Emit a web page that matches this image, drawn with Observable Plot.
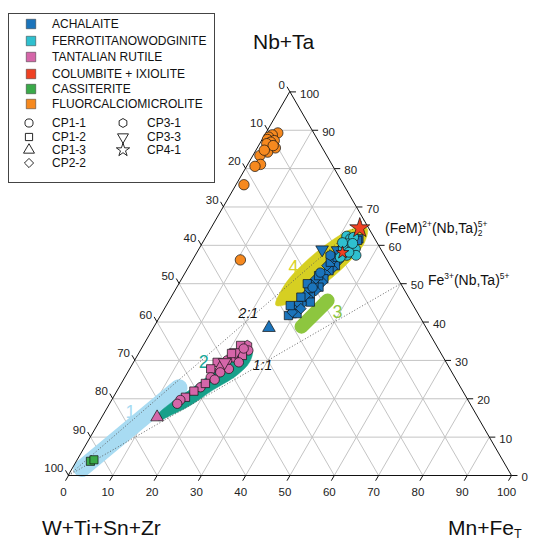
<!DOCTYPE html>
<html>
<head>
<meta charset="utf-8">
<script src="https://cdn.jsdelivr.net/npm/d3@7"></script>
<script src="https://cdn.jsdelivr.net/npm/@observablehq/plot@0.6"></script>
<style>
html,body{margin:0;padding:0;background:#fff;}
#wrap{position:relative;width:533px;height:542px;overflow:hidden;font-family:"Liberation Sans",Arial,Helvetica,sans-serif;color:#111;}
#chart{position:absolute;left:0;top:0;}
.t{position:absolute;white-space:nowrap;line-height:1;}
.t sup{font-size:60%;line-height:0;}
.t sub{font-size:60%;line-height:0;vertical-align:-0.22em;}
.stk{display:inline-block;vertical-align:middle;font-size:8.5px;line-height:9px;}
.stk span{display:block;}
#legend{position:absolute;left:8px;top:13px;width:207px;height:170px;border:1px solid #444;box-sizing:border-box;background:#fff;}
#legend .row{position:absolute;font-size:12px;line-height:14px;white-space:nowrap;}
#legend svg{position:absolute;overflow:visible;}
</style>
</head>
<body>
<div id="wrap">
  <div id="chart"></div>
  <div id="legend"></div>
  <div class="t" style="left:253px;top:31px;font-size:21px;">Nb+Ta</div>
  <div class="t" style="left:42px;top:517px;font-size:21px;">W+Ti+Sn+Zr</div>
  <div class="t" style="left:448px;top:517px;font-size:21px;">Mn+Fe<sub>T</sub></div>
  <div class="t" style="left:385px;top:220px;font-size:14px;">(FeM)<sup>2+</sup>(Nb,Ta)<span class="stk"><span>5+</span><span>2</span></span></div>
  <div class="t" style="left:428px;top:273px;font-size:14px;">Fe<sup>3+</sup>(Nb,Ta)<sup>5+</sup></div>
</div>
<script>
// ---------- DATA (ternary: [Nb+Ta %, Mn+FeT %, sample]; W+Ti+Sn+Zr = remainder) ----------
const minerals = ["ACHALAITE","FERROTITANOWODGINITE","TANTALIAN RUTILE","COLUMBITE + IXIOLITE","CASSITERITE","FLUORCALCIOMICROLITE"];
const mineralColors = ["#1b74bb","#2fc0cf","#d566a9","#ef4123","#3aaa49","#f6891f"];
const samples = ["CP1-1","CP1-2","CP1-3","CP2-2","CP3-1","CP3-3","CP4-1"];

const achalaite = [
[61.7,34.7,"CP1-2"],[56.0,33.0,"CP2-2"],[54.7,32.9,"CP1-2"],[53.9,32.6,"CP2-2"],[53.4,32.1,"CP1-2"],
[52.6,31.7,"CP2-2"],[51.3,32.0,"CP1-2"],[50.4,32.1,"CP2-2"],[49.1,32.0,"CP1-2"],[50.0,30.4,"CP1-2"],
[48.2,31.7,"CP2-2"],[47.4,30.9,"CP1-2"],[46.5,30.7,"CP2-2"],[45.6,30.3,"CP1-2"],[44.8,30.4,"CP2-2"],
[44.3,29.8,"CP1-2"],[43.0,29.7,"CP2-2"],[42.2,29.4,"CP1-2"],[42.2,30.5,"CP1-2"],[43.5,30.7,"CP2-2"],
[48.7,29.9,"CP1-2"],[54.7,31.0,"CP2-2"],[55.6,31.3,"CP1-2"],[56.5,31.7,"CP2-2"],[56.9,32.2,"CP1-2"],
[45.2,32.0,"CP1-2"],[46.9,30.0,"CP2-2"],[41.7,28.8,"CP1-2"],[42.6,29.2,"CP2-2"],[44.3,27.9,"CP1-2"],
[46.5,29.2,"CP1-2"],[50.0,28.9,"CP1-2"],[51.3,30.2,"CP2-2"],[52.1,30.4,"CP1-2"],[58.7,31.7,"CP2-2"],
[57.8,33.2,"CP1-2"],[59.1,33.3,"CP1-2"],[60.8,33.3,"CP2-2"],[61.3,34.6,"CP1-2"],[58.9,27.8,"CP3-3"],
[38.5,26.0,"CP1-3"],[58.7,31.4,"CP3-3"],[49.0,30.6,"CP1-1"],[52.9,30.4,"CP1-1"],[57.4,30.4,"CP3-1"]
];
const ferrotitanowodginite = [
[62.4,31.6,"CP1-1"],[61.7,32.8,"CP1-1"],[62.1,33.3,"CP1-1"],[60.4,32.8,"CP1-1"],[59.5,34.0,"CP1-1"],
[59.1,35.2,"CP1-1"],[59.1,32.5,"CP1-1"],[57.4,34.1,"CP1-1"],[57.4,36.2,"CP1-1"],[58.2,34.2,"CP1-1"],
[56.9,32.9,"CP1-1"],[60.7,31.5,"CP1-1"],[60.5,33.9,"CP1-1"]
];
const tantalianRutile = [
[33.9,23.4,"CP3-1"],[32.6,24.3,"CP1-1"],[31.3,23.6,"CP1-2"],[33.9,21.9,"CP1-2"],[30.8,21.8,"CP1-1"],
[30.0,20.8,"CP1-1"],[29.5,18.8,"CP1-2"],[28.2,20.2,"CP1-3"],[27.8,18.2,"CP1-2"],[27.8,22.3,"CP1-1"],
[26.9,20.8,"CP1-1"],[25.6,19.3,"CP1-1"],[23.0,18.3,"CP1-1"],[22.0,17.3,"CP1-2"],[20.4,16.2,"CP1-2"],
[19.7,15.4,"CP1-1"],[18.7,15.2,"CP1-1"],[15.2,12.4,"CP1-3"],[32.1,21.7,"CP3-3"],[29.5,20.5,"CP3-3"],
[29.5,23.7,"CP1-1"],[25.0,20.5,"CP1-1"],[31.8,20.9,"CP1-2"],[33.1,23.0,"CP1-1"],[24.0,18.9,"CP1-2"]
];
const columbite = [[64.5,33.5,"CP4-1"],[58.1,32.8,"CP4-1"]];
const cassiterite = [[3.7,3.1,"CP1-2"],[4.1,3.7,"CP1-2"]];
const fluorcalciomicrolite = [
[89.3,2.6,"CP1-1"],[88.8,1.6,"CP1-1"],[88.2,1.1,"CP1-1"],[87.6,1.1,"CP1-1"],[87.3,2.8,"CP1-1"],
[86.9,2.2,"CP1-1"],[86.5,1.5,"CP1-1"],[85.4,4.0,"CP1-1"],[84.3,2.8,"CP1-1"],[83.4,1.5,"CP1-1"],
[81.1,2.8,"CP1-1"],[80.6,1.8,"CP1-1"],[75.8,1.7,"CP1-1"],[56.2,10.7,"CP1-1"],[86.0,3.2,"CP1-1"],[84.8,1.8,"CP1-1"]
];

// compositional fields [Nb+Ta, Mn+FeT]
const field1 = [[1.8,2.1],[22.9,13.5]];
const field2 = [[15.4,12.2],[19.3,13.9],[22.4,16.3],[26.9,19.1],[32.1,21.0],[34.2,22.9],[32.6,25.2],[29.5,26.1],[26.1,24.9],[22.2,21.4],[18.3,18.4],[15.4,14.9],[14.3,13.2]];
const field3 = [[38.8,33.2],[45.6,35.7]];
const field4 = [[44.4,24.6],[48.8,23.9],[52.5,24.45],[57.7,26.55],[62.15,29.5],[64.3,32.05],[64.4,35.2],[60.7,36.45],[57.0,35.9],[51.75,33.8],[47.35,30.8],[45.2,28.3]];
const fieldLabels = [
  {text:"1", p:[16.4,5.8], color:"#a8dbf2"},
  {text:"2", p:[29.5,15.8], color:"#1aa898"},
  {text:"3", p:[42.5,39.5], color:"#8dc63f"},
  {text:"4", p:[54.2,23.7], color:"#d8d22a"}
];
const ratioLines = [{name:"2:1", end:[66.67,33.33], at:[42.2,19.5]},{name:"1:1", end:[50,50], at:[28.7,29.45]}];
const tickValues = [0,10,20,30,40,50,60,70,80,90,100];
const gridValues = [10,20,30,40,50,60,70,80,90];

// ---------- helpers ----------
const S3 = Math.sqrt(3)/2;
const tx = p => p[1] + p[0]/2;
const ty = p => p[0]*S3;

const invTri = {draw(ctx, size){const y=Math.sqrt(size/(Math.sqrt(3)*3));ctx.moveTo(0,y*2);ctx.lineTo(-Math.sqrt(3)*y,-y);ctx.lineTo(Math.sqrt(3)*y,-y);ctx.closePath();}};
const hexagon = {draw(ctx, size){const rx=Math.sqrt(size/Math.PI)*0.95, ry=rx*1.1547, hy=ry/2;ctx.moveTo(0,ry);ctx.lineTo(rx,hy);ctx.lineTo(rx,-hy);ctx.lineTo(0,-ry);ctx.lineTo(-rx,-hy);ctx.lineTo(-rx,hy);ctx.closePath();}};
const diamond = {draw(ctx, size){const r=Math.sqrt(size/2)*0.9;ctx.moveTo(0,-r);ctx.lineTo(r,0);ctx.lineTo(0,r);ctx.lineTo(-r,0);ctx.closePath();}};
const sampleSymbols = [d3.symbolCircle, d3.symbolSquare, d3.symbolTriangle, diamond, hexagon, invTri, d3.symbolStar];

const rows = (arr, mineral) => arr.map(d => ({nb:d[0], mn:d[1], sample:d[2], mineral}));
const P = d => [d.nb, d.mn];

const grid = gridValues.flatMap(v => [
  {a:[v,0], b:[v,100-v]},
  {a:[0,v], b:[100-v,v]},
  {a:[0,100-v], b:[100-v,0]}
]);
const TL = 1.35; // tick length in data units
const outline = [[0,0],[0,100],[100,0]];

const dotOpts = (r) => ({x:d=>tx(P(d)), y:d=>ty(P(d)), fill:"mineral", symbol:"sample", r, stroke:"#111", strokeWidth:0.7});
const font = "Liberation Sans, Arial, Helvetica, sans-serif";

const chart = Plot.plot({
  width:533, height:542,
  x:{domain:[0,100], range:[68,511], axis:null},
  y:{domain:[0,100*S3], range:[475,91.4], axis:null},
  color:{domain:minerals, range:mineralColors},
  symbol:{domain:samples, range:sampleSymbols},
  style:{fontFamily:font, background:"transparent", overflow:"visible"},
  marks:[
    Plot.link(grid, {x1:d=>tx(d.a), y1:d=>ty(d.a), x2:d=>tx(d.b), y2:d=>ty(d.b), stroke:"#c4c4c4", strokeWidth:1}),
    Plot.line(field1, {x:tx, y:ty, stroke:"#a8dbf2", strokeWidth:17, strokeLinecap:"round"}),
    Plot.line(field2, {x:tx, y:ty, curve:"catmull-rom-closed", fill:"#17a08a", stroke:"#17a08a", strokeWidth:0.5}),
    Plot.line(field3, {x:tx, y:ty, stroke:"#8dc63f", strokeWidth:14, strokeLinecap:"round"}),
    Plot.line(field4, {x:tx, y:ty, curve:"catmull-rom-closed", fill:"#d6cf22", stroke:"#d6cf22", strokeWidth:0.5}),
    Plot.link(ratioLines, {x1:()=>0, y1:()=>0, x2:d=>tx(d.end), y2:d=>ty(d.end), stroke:"#555", strokeWidth:0.9, strokeDasharray:"1,2"}),
    Plot.line(outline, {x:tx, y:ty, curve:"linear-closed", stroke:"#111", strokeWidth:1}),
    // ticks
    Plot.link(tickValues, {x1:v=>tx([0,v]), y1:()=>0, x2:v=>tx([0,v])-TL/2, y2:()=>-TL*S3, stroke:"#111"}),
    Plot.link(tickValues, {x1:v=>tx([v,100-v]), y1:v=>ty([v]), x2:v=>tx([v,100-v])+TL, y2:v=>ty([v]), stroke:"#111"}),
    Plot.link(tickValues, {x1:v=>tx([100-v,0]), y1:v=>ty([100-v]), x2:v=>tx([100-v,0])-TL/2, y2:v=>ty([100-v])+TL*S3, stroke:"#111"}),
    // tick labels
    Plot.text(tickValues, {x:v=>tx([0,v]), y:()=>0, text:d=>String(d), dx:-5, dy:17, fontSize:11.5, fill:"#222"}),
    Plot.text(tickValues, {x:v=>tx([v,100-v]), y:v=>ty([v]), text:d=>String(d), dx:10, dy:2, textAnchor:"start", fontSize:11.5, fill:"#222"}),
    Plot.text(tickValues, {x:v=>tx([100-v,0]), y:v=>ty([100-v]), text:d=>String(d), dx:-5, dy:-7, textAnchor:"end", fontSize:11.5, fill:"#222"}),
    // field labels
    Plot.text(fieldLabels, {x:d=>tx(d.p), y:d=>ty(d.p), text:"text", fill:d=>d.color, fontSize:18}),
    Plot.text(ratioLines, {x:d=>tx(d.at), y:d=>ty(d.at), text:"name", fontSize:14, fontStyle:"italic", fill:"#111"}),
    // data
    Plot.dot(rows(cassiterite,"CASSITERITE"), dotOpts(4.6)),
    Plot.dot(rows(fluorcalciomicrolite,"FLUORCALCIOMICROLITE"), dotOpts(5.2)),
    Plot.dot(rows(tantalianRutile,"TANTALIAN RUTILE"), dotOpts(4.7)),
    Plot.dot(rows(achalaite,"ACHALAITE"), dotOpts(4.7)),
    Plot.dot(rows(ferrotitanowodginite,"FERROTITANOWODGINITE"), dotOpts(5)),
    Plot.dot(rows(columbite.slice(0,1),"COLUMBITE + IXIOLITE"), dotOpts(6.3)),
    Plot.dot(rows(columbite.slice(1),"COLUMBITE + IXIOLITE"), dotOpts(4))
  ]
});
document.getElementById("chart").appendChild(chart);

// ---------- legend ----------
const lg = document.getElementById("legend");
const symPath = (type, size) => d3.symbol().type(type).size(size)();
function addSym(cx, cy, path, fill, stroke, sw){
  const s = document.createElementNS("http://www.w3.org/2000/svg","svg");
  s.setAttribute("width",14); s.setAttribute("height",14);
  s.style.left=(cx-7)+"px"; s.style.top=(cy-7)+"px";
  const p = document.createElementNS("http://www.w3.org/2000/svg","path");
  p.setAttribute("d",path); p.setAttribute("transform","translate(7,7)");
  p.setAttribute("fill",fill); p.setAttribute("stroke",stroke); p.setAttribute("stroke-width",sw);
  s.appendChild(p); lg.appendChild(s);
}
function addText(x, cy, txt){
  const d = document.createElement("div");
  d.className="row"; d.textContent=txt; d.style.left=x+"px"; d.style.top=(cy-7)+"px";
  lg.appendChild(d);
}
const mineralY = [10,27,43,60,75,90];
minerals.forEach((m,i)=>{
  addSym(22, mineralY[i], symPath(d3.symbolSquare, 90), mineralColors[i], "#333", 0.5);
  addText(43, mineralY[i], m);
});
const samplePos = [[20,109],[20,123],[20,136],[20,149],[114,109],[114,123],[114,136]];
samples.forEach((s,i)=>{
  const [x,y] = samplePos[i];
  addSym(x, y, symPath(sampleSymbols[i], s==="CP4-1"?55:52), "#fff", "#111", 0.9);
  addText(x+(i<4?23:24), y, s);
});
</script>
</body>
</html>
